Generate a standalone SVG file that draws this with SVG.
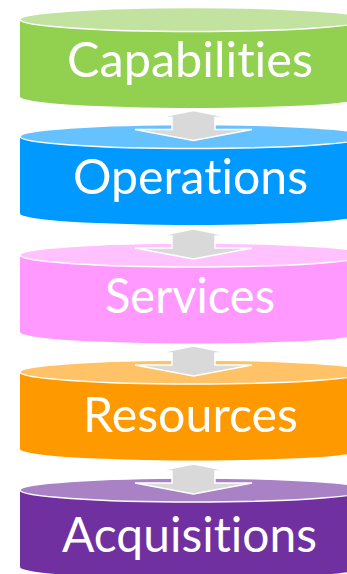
<svg xmlns="http://www.w3.org/2000/svg" width="347" height="574" viewBox="0 0 347 574">
<defs>
<style>
.top{stroke:#FFFFFF;stroke-width:1.5}
.lbl{font-family:Lato,"Open Sans","Liberation Sans",sans-serif;font-size:48px;fill:#FFFFFF;text-anchor:middle;font-variant-ligatures:none;font-feature-settings:"liga" 0,"clig" 0}
.arrow{fill:#D9D9D9;stroke:#FFFFFF;stroke-width:1.5;stroke-linejoin:miter}
</style>
</defs>
<rect width="347" height="574" fill="#FFFFFF"/>
<g id="capabilities">
<path d="M20,19.5 L20,96.5 A173.5,11.5 0 0 0 367,96.5 L367,19.5 Z" fill="#92D050"/>
<ellipse class="top" cx="193.5" cy="19.5" rx="173.5" ry="12" fill="#C2E3A0"/>
<text class="lbl" x="190" y="77" textLength="246" lengthAdjust="spacingAndGlyphs">Capabilities</text>
</g>
<g id="operations">
<path d="M20,136.5 L20,213.5 A173.5,11.5 0 0 0 367,213.5 L367,136.5 Z" fill="#0099FF"/>
<ellipse class="top" cx="193.5" cy="136.5" rx="173.5" ry="12" fill="#66C2FF"/>
<text class="lbl" x="190.5" y="194" textLength="235" lengthAdjust="spacingAndGlyphs">Operations</text>
</g>
<g id="services">
<path d="M20,255 L20,332 A173.5,11.5 0 0 0 367,332 L367,255 Z" fill="#FF99FF"/>
<ellipse class="top" cx="193.5" cy="255" rx="173.5" ry="12" fill="#FFC2FF"/>
<text class="lbl" x="190" y="313" textLength="170" lengthAdjust="spacingAndGlyphs">Services</text>
</g>
<g id="resources">
<path d="M20,372 L20,449 A173.5,11.5 0 0 0 367,449 L367,372 Z" fill="#FF9900"/>
<ellipse class="top" cx="193.5" cy="372" rx="173.5" ry="12" fill="#FFC266"/>
<text class="lbl" x="190.5" y="432" textLength="215" lengthAdjust="spacingAndGlyphs">Resources</text>
</g>
<g id="acquisitions">
<path d="M20,490 L20,567 A173.5,11.5 0 0 0 367,567 L367,490 Z" fill="#7030A0"/>
<ellipse class="top" cx="193.5" cy="490" rx="173.5" ry="12" fill="#A982C6"/>
<text class="lbl" x="189.5" y="552" textLength="255" lengthAdjust="spacingAndGlyphs">Acquisitions</text>
</g>
<g id="connectors">
<polygon class="arrow" points="193.5,110.5 228.5,117.5 215,117.5 215,129.5 252,129.5 193.5,140.5 135,129.5 172,129.5 172,117.5 158.5,117.5"/>
<polygon class="arrow" points="193.5,229 228.5,236 215,236 215,248 252,248 193.5,259 135,248 172,248 172,236 158.5,236"/>
<polygon class="arrow" points="193.5,346 228.5,353 215,353 215,365 252,365 193.5,376 135,365 172,365 172,353 158.5,353"/>
<polygon class="arrow" points="193.5,464 228.5,471 215,471 215,483 252,483 193.5,494 135,483 172,483 172,471 158.5,471"/>
</g>
</svg>
